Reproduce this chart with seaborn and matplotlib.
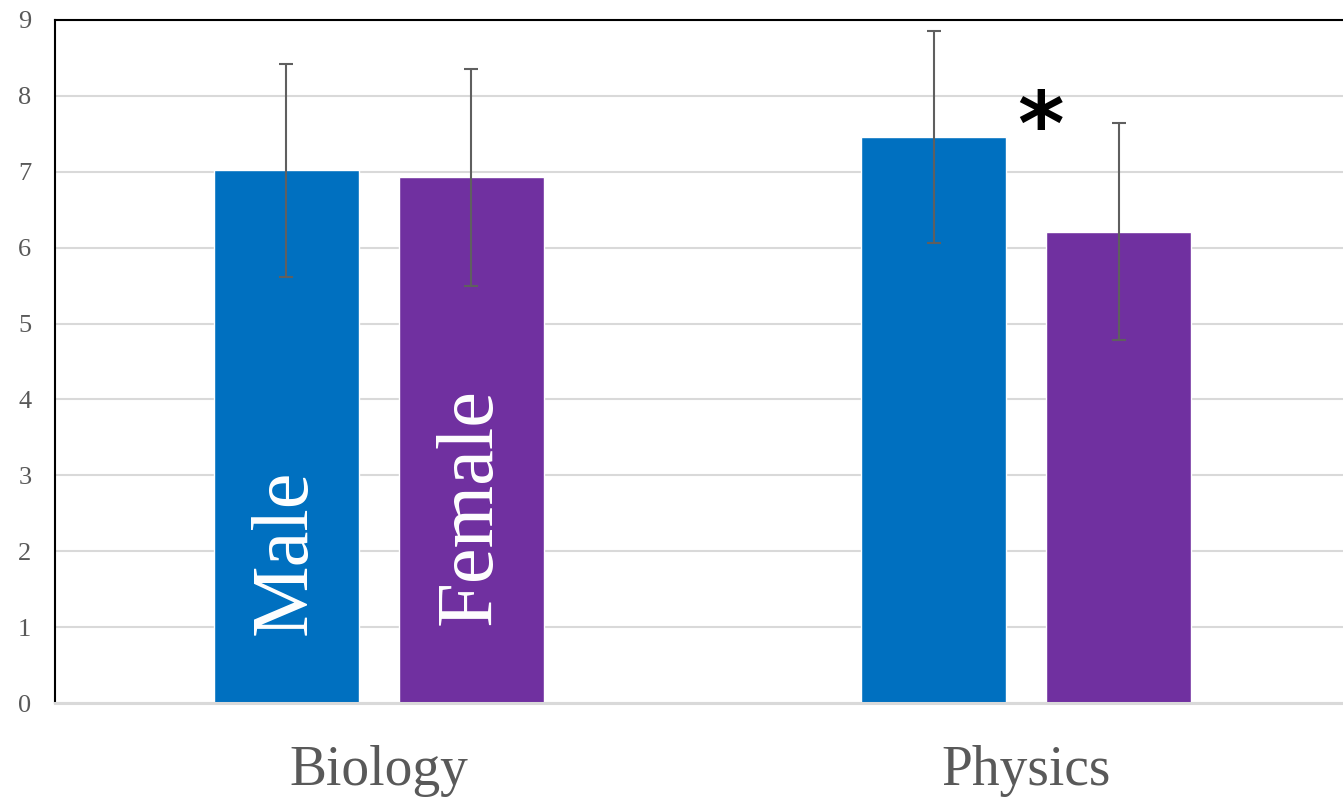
import matplotlib
matplotlib.use("Agg")
import matplotlib.pyplot as plt
import seaborn as sns
import pandas as pd
import numpy as np

# Mean scores and their spread, by subject and sex
subjects = ["Biology", "Physics"]
sexes = ["Male", "Female"]
male_means = [7.02, 7.46]
female_means = [6.93, 6.21]
male_err = [1.40, 1.40]
female_err = [1.43, 1.43]
y_ticks = [0, 1, 2, 3, 4, 5, 6, 7, 8, 9]

colors = {"Male": "#0070C0", "Female": "#7030A0"}
serif = "Liberation Serif"
tick_gray = "#595959"

df = pd.DataFrame({
    "subject": subjects * 2,
    "sex": ["Male"] * len(subjects) + ["Female"] * len(subjects),
    "score": male_means + female_means,
    "err": male_err + female_err,
})

sns.set_theme(style="white")

fig = plt.figure(figsize=(13.43, 7.98), dpi=100)
ax = fig.add_axes([55 / 1343, 1 - 703 / 798, 1 - 55 / 1343, (703 - 20) / 798])

sns.barplot(data=df, x="subject", y="score", hue="sex", order=subjects,
            hue_order=sexes, palette=colors, width=0.571, gap=0.216,
            errorbar=None, legend=False, ax=ax, saturation=1)

# Error bars placed at the centre of each drawn bar
for container, sex in zip(ax.containers, sexes):
    sub = df[df["sex"] == sex].set_index("subject").loc[subjects]
    xs = [p.get_x() + p.get_width() / 2 for p in container.patches]
    ax.errorbar(xs, sub["score"].values, yerr=sub["err"].values, fmt="none",
                ecolor="#5f5f5f", elinewidth=1.5, capsize=5, capthick=1.5,
                zorder=4)

# Series names written inside the Biology bars
for container, sex, yb in zip(ax.containers, sexes, [0.9, 1.03]):
    p = container.patches[0]
    ax.text(p.get_x() + p.get_width() / 2, yb, sex, rotation=90,
            ha="center", va="bottom", color="white", fontsize=58,
            family=serif, zorder=5)

# Significance marker between the Physics bars
ax.text(1.0225, 7.55, "*", ha="center", va="center", fontsize=64,
        color="black", family="DejaVu Sans", fontweight="bold", zorder=5)

ax.set_xlim(-0.5, 1.489)
ax.set_ylim(0, 9)
ax.set_yticks(y_ticks)
ax.set_yticklabels([str(t) for t in y_ticks], family=serif, fontsize=19,
                   color=tick_gray)
ax.set_xticks(range(len(subjects)))
ax.set_xticklabels(subjects, family=serif, fontsize=40, color=tick_gray)
ax.tick_params(axis="y", length=0, pad=17)
ax.tick_params(axis="x", length=0, pad=30)
ax.set_xlabel("")
ax.set_ylabel("")

ax.yaxis.grid(True, color="#d9d9d9", linewidth=1.5)
ax.set_axisbelow(True)

for side in ["top", "left"]:
    ax.spines[side].set_color("black")
    ax.spines[side].set_linewidth(1.5)
ax.spines["bottom"].set_color("#d9d9d9")
ax.spines["bottom"].set_linewidth(2.2)
ax.spines["right"].set_visible(False)

fig.savefig("out.png", dpi=100)
